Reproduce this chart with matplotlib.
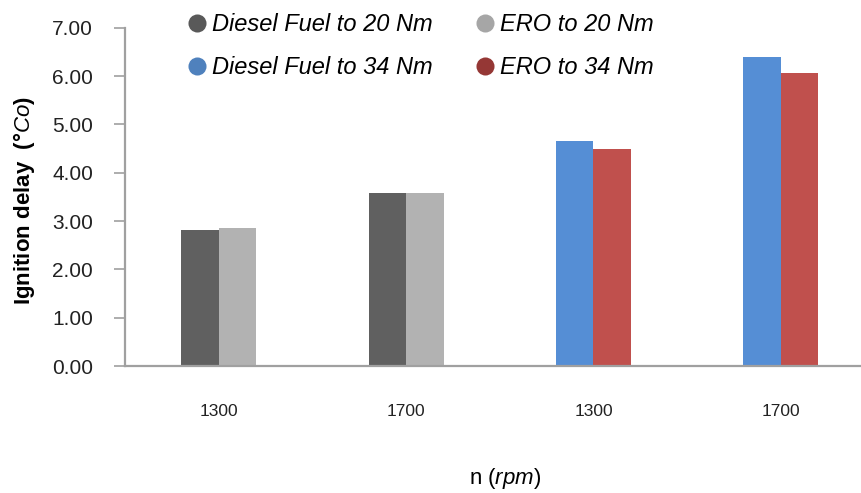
import matplotlib.pyplot as plt
from matplotlib.lines import Line2D
import numpy as np

plt.rcParams['font.family'] = ['Liberation Sans', 'DejaVu Sans']
plt.rcParams['mathtext.fontset'] = 'custom'
plt.rcParams['mathtext.rm'] = 'Liberation Sans'
plt.rcParams['mathtext.it'] = 'Liberation Sans:italic'
plt.rcParams['mathtext.bf'] = 'Liberation Sans:bold'

speeds = ["1300", "1700", "1300", "1700"]
# first value of each pair: diesel fuel, second: ERO
diesel = [2.82, 3.58, 4.66, 6.40]
ero = [2.86, 3.58, 4.49, 6.07]
load_20 = [True, True, False, False]

series_names = ["Diesel Fuel to 20 Nm", "ERO to 20 Nm",
                "Diesel Fuel to 34 Nm", "ERO to 34 Nm"]
bar_colors = {"d20": "#606060", "e20": "#b2b2b2", "d34": "#558ed5", "e34": "#c0504d"}
marker_colors = ["#595959", "#a6a6a6", "#4f81bd", "#953735"]

x = np.arange(len(speeds))
w = 0.2

fig = plt.figure(figsize=(8.61, 4.93), dpi=100)
ax = fig.add_axes([0.145, 0.2576, 0.86, 0.686])

c_d = [bar_colors["d20"] if l else bar_colors["d34"] for l in load_20]
c_e = [bar_colors["e20"] if l else bar_colors["e34"] for l in load_20]
ax.bar(x - w/2, diesel, width=w, color=c_d, edgecolor="none")
ax.bar(x + w/2, ero, width=w, color=c_e, edgecolor="none")

ax.set_xlim(-0.5, 3.45)
ax.set_ylim(0, 7)
ax.set_yticks(np.arange(0, 7.01, 1))
ax.set_yticklabels([f"{v:.2f}" for v in np.arange(0, 7.01, 1)])
ax.set_xticks(x)
ax.set_xticklabels(speeds)

for s in ["top", "right"]:
    ax.spines[s].set_visible(False)
for s in ["left", "bottom"]:
    ax.spines[s].set_color("#a0a0a0")
    ax.spines[s].set_linewidth(1.6)

ax.tick_params(axis="y", length=8, width=1.2, color="#a0a0a0", pad=15,
               labelsize=15, labelcolor="#222222")
ax.tick_params(axis="x", length=0, pad=27, labelsize=12.5, labelcolor="#222222")

ax.set_ylabel(r"Ignition delay  ($\mathbf{°}\mathit{Co}$)", fontsize=16,
              fontweight="bold")
ax.yaxis.set_label_coords(-0.118, 0.49)
ax.set_xlabel(r"n ($\mathit{rpm}$)", fontsize=16)
ax.xaxis.set_label_coords(0.513, -0.295)

handles = [Line2D([], [], marker="o", linestyle="none", markersize=13,
                  markerfacecolor=c, markeredgecolor="none") for c in marker_colors]
order = [0, 2, 1, 3]
fig.legend([handles[i] for i in order], [series_names[i] for i in order],
           ncol=2, loc="upper left", bbox_to_anchor=(0.19, 1.016),
           frameon=False, prop={"style": "italic", "size": 17},
           handletextpad=0.15, columnspacing=1.7, labelspacing=0.85,
           handlelength=1.0)

fig.savefig("out.png", dpi=100)
